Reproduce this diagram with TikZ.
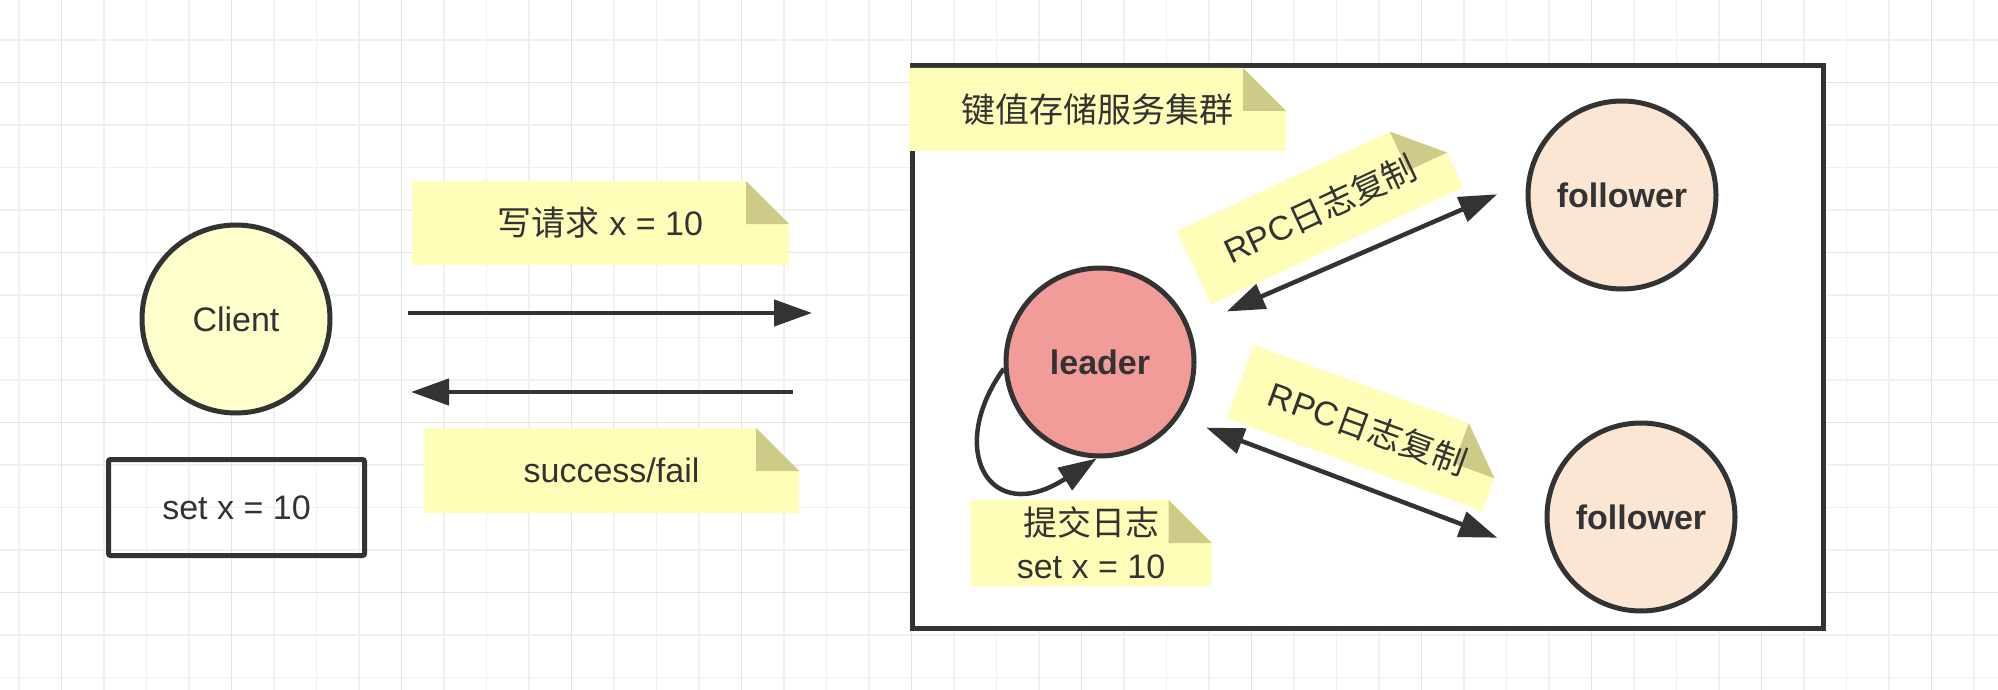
\documentclass[tikz,border=0pt]{standalone}
\usepackage{fontspec}
\setmainfont{Liberation Sans}
\newfontfamily\cjk{Noto Sans CJK SC}
\usetikzlibrary{arrows.meta,calc}
\definecolor{ink}{HTML}{333333}
\definecolor{clientfill}{HTML}{FFFFCC}
\definecolor{leaderfill}{HTML}{F19C99}
\definecolor{followerfill}{HTML}{FAE6D2}
\definecolor{notefill}{HTML}{FFFDB8}
\definecolor{foldfill}{HTML}{CDCB87}
\pgfdeclarelayer{back}
\pgfdeclarelayer{paper}
\pgfsetlayers{back,paper,main}
\tikzset{
    every node/.style={text=ink,font=\fontsize{34}{43}\selectfont},
    gridminor/.style={line width=1.5pt,gray!12},
    gridmajor/.style={line width=1.5pt,gray!22},
    proc/.style={circle,draw=ink,line width=5pt,minimum size=188pt,inner sep=0pt},
    notetext/.style={inner sep=0pt,outer sep=0pt,align=center},
    flow/.style={draw=ink,line width=4.5pt,-{Triangle[length=38pt,width=26pt]}},
    flowboth/.style={flow,{Triangle[length=38pt,width=26pt]}-{Triangle[length=38pt,width=26pt]}},
}
\begin{document}
\begin{tikzpicture}[x=1pt,y=-1pt]
    \useasboundingbox (0,0) rectangle (1998,690);
    % paper grid and the cluster frame
    \begin{pgfonlayer}{back}
    \fill[white] (0,0) rectangle (1998,690);
    \foreach \gx in {0,...,46} \draw[gridminor] ({18.75+42.5*\gx},0) -- ++(0,690);
    \foreach \gy in {0,...,15} \draw[gridminor] (0,{40+42.5*\gy}) -- ++(1998,0);
    \foreach \gx in {0,...,11} \draw[gridmajor] ({61.25+170*\gx},0) -- ++(0,690);
    \foreach \gy in {0,...,3} \draw[gridmajor] (0,{82.5+170*\gy}) -- ++(1998,0);
    \node[draw=ink,fill=white,line width=5pt,minimum width=911pt,minimum height=562pt] (cluster) at (1368,347) {};
    \end{pgfonlayer}

    \node[proc,fill=clientfill] (client) at (236,319) {Client};
    \node[draw=ink,line width=5pt,rounded corners=2pt,minimum width=256pt,minimum height=96pt] (store) at (236.5,507.5) {set x = 10};
    \node[proc,fill=leaderfill] (leader) at (1100,362) {\bfseries leader};
    \node[proc,fill=followerfill] (fa) at (1622,195) {\bfseries follower};
    \node[proc,fill=followerfill] (fb) at (1641,517) {\bfseries follower};

    % notes
    \node[notetext,minimum width=377pt,minimum height=84pt] (reqnote) at (600.5,223) {{\cjk 写请求} x = 10};
    \node[notetext,minimum width=375pt,minimum height=85pt] (respnote) at (611.5,470.5) {success/fail};
    \node[notetext,minimum width=377pt,minimum height=83pt] (titlenote) at (1097.5,109.5) {\cjk 键值存储服务集群};
    \node[notetext,minimum width=241pt,minimum height=86pt] (commitnote) at (1091,543) {{\cjk 提交日志}\\set x = 10};
    \node[notetext,rotate=25,minimum width=278pt,minimum height=81pt] (rpcnoteA) at (1320,209) {RPC{\cjk 日志复制}};
    \node[notetext,rotate=-20,minimum width=272pt,minimum height=78pt] (rpcnoteB) at (1368,428) {RPC{\cjk 日志复制}};
    \begin{pgfonlayer}{paper}
    \foreach \n in {reqnote,respnote,titlenote,commitnote,rpcnoteA,rpcnoteB}{
        \path ($(\n.north east)!43pt!(\n.north west)$) coordinate (ca)
              ($(\n.north east)!43pt!(\n.south east)$) coordinate (cb);
        \fill[notefill] (\n.north west) -- (ca) -- (cb) -- (\n.south east) -- (\n.south west) -- cycle;
        \fill[foldfill] (ca) -- ($(ca)+(cb)-(\n.north east)$) -- (cb) -- cycle;
    }
    \end{pgfonlayer}

    \coordinate (reqstart) at (408,313);
    \coordinate (reqend) at (812,313);
    \coordinate (respstart) at (793,392);
    \coordinate (respend) at (411,392);
    \draw[flow] (reqstart) -- (reqend);
    \draw[flow] (respstart) -- (respend);
    \draw[flowboth,shorten <=40pt,shorten >=32pt] (leader.21) -- (fa.172);
    \draw[flowboth,shorten <=29pt,shorten >=61pt] (leader.-35) -- (fb.206);
    \draw[flow] (leader.184) .. controls +(-58,80) and +(-108,70) .. (leader.268);
\end{tikzpicture}
\end{document}
